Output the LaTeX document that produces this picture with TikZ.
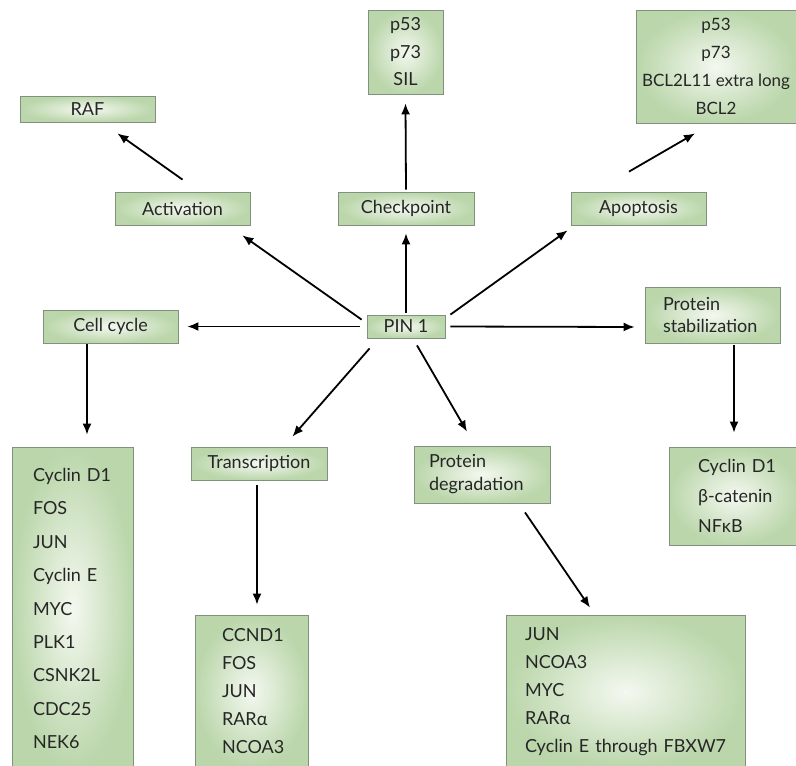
\documentclass[tikz,border=0pt]{standalone}
\usepackage{fontspec}
\setmainfont{Lato}
\usepackage{xcolor}
\usepackage{tikz}
\usetikzlibrary{arrows.meta,positioning,calc}

\definecolor{boxin}{RGB}{244,248,240}
\definecolor{boxout}{RGB}{186,214,170}
\definecolor{boxline}{RGB}{128,146,126}

\begin{document}
\begin{tikzpicture}[
    x=1pt, y=-1pt,
    box/.style={draw=boxline, line width=0.8pt, shade, inner color=boxin, outer color=boxout, text=black!85, inner sep=0pt, align=center, font=\fontsize{18}{28}\selectfont},
    label/.style={box, minimum width=#1, minimum height=33pt},
    label/.default=135pt,
    leftlist/.style={box, align=left},
    arrow/.style={-{Latex[length=11pt, width=9pt]}, line width=1.8pt}
]

    \fill[white] (0,0) rectangle (796,766);
    \useasboundingbox (0,0) rectangle (796,766);

    % Centre
    \node [label=78pt, minimum height=23pt] (pin) at (406,326.5) {PIN~1};

    % Processes
    \node [label] (act) at (182.5,208.5) {Activation};
    \node [label=136pt] (chk) at (406,208.5) {Checkpoint};
    \node [label] (apo) at (638.5,208.5) {Apoptosis};
    \node [label] (cc) at (110.5,326.5) {Cell cycle};
    \node [label=136pt] (tr) at (259,463.5) {Transcription};
    \node [leftlist, inner xsep=18pt, text width=99pt, minimum height=56pt, font=\fontsize{18}{22}\selectfont] (ps) at (712.5,315) {Protein\\stabilization};
    \node [leftlist, inner xsep=15pt, text width=106pt, minimum height=57pt, font=\fontsize{18}{23}\selectfont] (pd) at (482,474.5) {Protein\\degradation};

    % Targets
    \node [label, minimum height=26pt] (raf) at (87.5,109) {RAF};
    \node [box, minimum width=75pt, minimum height=84pt, font=\fontsize{18}{27.5}\selectfont] (chk_list) at (405.5,52) {p53\\p73\\SIL};
    \node [box, minimum width=160pt, minimum height=113pt, font=\fontsize{17}{28}\selectfont] (apo_list) at (716,66.5) {p53\\p73\\BCL2L11~extra~long\\BCL2};
    \node [leftlist, inner xsep=21pt, text width=79pt, minimum height=323pt, font=\fontsize{18}{33.4}\selectfont] (cc_list) at (72.5,608.5) {Cyclin~D1\\FOS\\JUN\\Cyclin~E\\MYC\\PLK1\\CSNK2L\\CDC25\\NEK6};
    \node [leftlist, inner xsep=27pt, text width=59pt, minimum height=153pt] (tr_list) at (251.5,691.5) {CCND1\\FOS\\JUN\\RARα\\NCOA3};
    \node [leftlist, inner xsep=19pt, text width=201pt, minimum height=153pt] (pd_list) at (625.5,691.5) {JUN\\NCOA3\\MYC\\RARα\\Cyclin~E~through~FBXW7};
    \node [leftlist, inner xsep=29pt, text width=73pt, minimum height=98pt, font=\fontsize{18}{30}\selectfont] (ps_list) at (734.5,496) {Cyclin~D1\\\mbox{β-catenin}\\NFκB};

    % Connections from PIN 1
    \draw [arrow] ([xshift=-5pt, yshift=-5pt]pin.north west) -- ([xshift=-8pt, yshift=-10pt]act.south east);
    \draw [arrow] ([yshift=2pt]pin.north) -- ([yshift=-8pt]chk.south);
    \draw [arrow] ([xshift=5pt]pin.north east) -- ([xshift=-3pt, yshift=-5pt]apo.south west);
    \draw [arrow] ([xshift=-7pt]pin.west) -- ([xshift=9pt]cc.east);
    \draw [arrow] ([xshift=5pt]pin.east) -- ([xshift=-10pt, yshift=-12pt]ps.west);
    \draw [arrow] ([xshift=3pt, yshift=-10pt]pin.south west) -- ([xshift=-35pt, yshift=10pt]tr.north east);
    \draw [arrow] ([xshift=11pt, yshift=-7pt]pin.south) -- ([xshift=-15pt, yshift=14pt]pd.north);

    % Connections to targets
    \draw [arrow] ([yshift=12pt]act.north) -- ([xshift=-38pt, yshift=-11pt]raf.south east);
    \draw [arrow] ([yshift=2pt]chk.north) -- ([yshift=-9pt]chk_list.south);
    \draw [arrow] ([xshift=-9.5pt, yshift=20pt]apo.north) -- ([xshift=-21pt, yshift=-10pt]apo_list.south);
    \draw [arrow] ([xshift=-23.5pt, yshift=-1pt]cc.south) -- ([xshift=14.5pt, yshift=12pt]cc_list.north);
    \draw [arrow] ([xshift=-2pt, yshift=-5pt]tr.south) -- ([xshift=5.5pt, yshift=10pt]tr_list.north);
    \draw [arrow] ([xshift=43pt, yshift=-9pt]pd.south) -- ([xshift=-35.5pt, yshift=7pt]pd_list.north);
    \draw [arrow] ([xshift=21.5pt, yshift=-2pt]ps.south) -- ([xshift=-0.5pt, yshift=14pt]ps_list.north);

\end{tikzpicture}
\end{document}
